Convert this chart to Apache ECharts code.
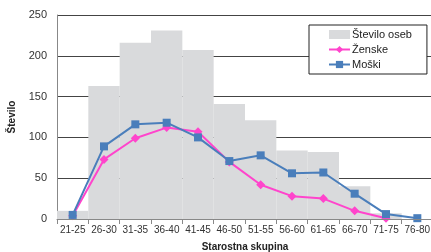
<!DOCTYPE html>
<html>
<head>
<meta charset="utf-8">
<script src="https://cdn.jsdelivr.net/npm/echarts@6/dist/echarts.min.js"></script>
<style>
  html, body { margin: 0; padding: 0; background: #fff; }
  #main { width: 431px; height: 252px; }
</style>
</head>
<body>
<div id="main"></div>
<script>
// starostne skupine
var categories = ['21-25', '26-30', '31-35', '36-40', '41-45', '46-50', '51-55', '56-60', '61-65', '66-70', '71-75', '76-80'];
var steviloOseb = [10, 163, 216, 231, 207, 141, 121, 84, 82, 40, 7, 0];
var zenske = [4, 73, 99, 112, 107, 70, 42, 28, 25, 10, 1, null];
var moski = [5, 89, 116, 118, 100, 71, 78, 56, 57, 31, 6, 1];
var yTicks = [0, 50, 100, 150, 200, 250];

var chart = echarts.init(document.getElementById('main'));
chart.setOption({
    animation: false,
    textStyle: { fontFamily: 'Liberation Sans, Arial, sans-serif' },
    grid: { left: 57, right: -2, top: 15, bottom: 33, outerBoundsMode: 'none' },
    legend: {
        orient: 'vertical',
        left: 309,
        top: 25,
        padding: [4, 15, 4, 19],
        itemGap: 4,
        itemWidth: 21,
        itemHeight: 9,
        backgroundColor: '#fff',
        borderColor: '#222',
        borderWidth: 1,
        textStyle: { fontSize: 11, color: '#222', padding: [0, 0, 0, -3] },
        data: [
            { name: 'Število oseb', icon: 'rect', itemStyle: { color: '#d9dadc' } },
            { name: 'Ženske' },
            { name: 'Moški' }
        ]
    },
    xAxis: {
        type: 'category',
        data: categories,
        name: 'Starostna skupina',
        nameLocation: 'middle',
        nameGap: 23,
        nameTextStyle: { fontSize: 10, fontWeight: 'bold', color: '#222' },
        axisLine: { lineStyle: { color: '#888' } },
        axisTick: { show: true, lineStyle: { color: '#888' } },
        axisLabel: { fontSize: 10, color: '#333', margin: 6, interval: 0 },
        z: 5
    },
    yAxis: {
        type: 'value',
        min: yTicks[0],
        max: yTicks[yTicks.length - 1],
        interval: 50,
        name: 'Število',
        nameLocation: 'middle',
        nameRotate: 90,
        nameGap: 36,
        nameTextStyle: { fontSize: 10, fontWeight: 'bold', color: '#222' },
        axisLine: { show: true, lineStyle: { color: '#888' } },
        axisTick: { show: true, length: 0 },
        axisLabel: { fontSize: 11, color: '#333', margin: 10 },
        splitLine: { lineStyle: { color: '#444', width: 1 } }
    },
    series: [
        {
            name: 'Število oseb',
            type: 'bar',
            data: steviloOseb,
            barCategoryGap: '0%',
            itemStyle: { color: '#d9dadc' },
            z: 2
        },
        {
            name: 'Ženske',
            type: 'line',
            data: zenske,
            symbol: 'diamond',
            symbolSize: 9,
            lineStyle: { color: '#ff44cc', width: 2 },
            itemStyle: { color: '#ff44cc' },
            z: 3
        },
        {
            name: 'Moški',
            type: 'line',
            data: moski,
            symbol: 'rect',
            symbolSize: 8,
            lineStyle: { color: '#4a7ebb', width: 2 },
            itemStyle: { color: '#4a7ebb' },
            z: 4
        }
    ]
});
</script>
</body>
</html>
